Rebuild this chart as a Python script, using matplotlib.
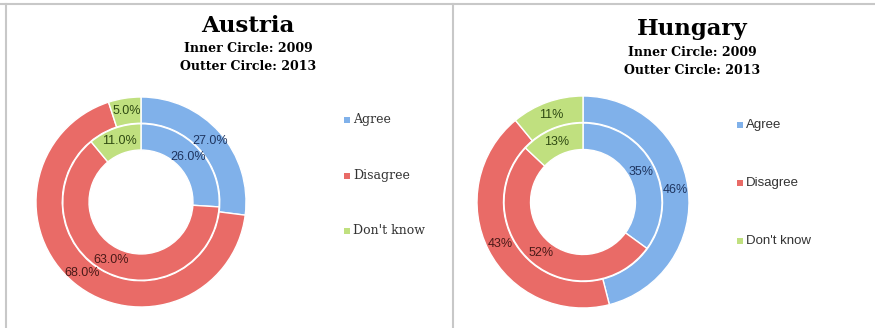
import numpy as np
import matplotlib.pyplot as plt
from matplotlib.patches import Rectangle
from matplotlib.lines import Line2D


W, H = 875, 328

categories = ["Agree", "Disagree", "Don't know"]

austria_2009 = [26.0, 63.0, 11.0]
austria_2013 = [27.0, 68.0, 5.0]

hungary_2009 = [35, 52, 13]
hungary_2013 = [46, 43, 11]

colors = ["#80b1ea", "#e96b67", "#c0e07f"]
label_colors = ["#1f3560", "#4a1a18", "#2f4a12"]


# =========================================================
# Helpers
# =========================================================

def fx(x):
    return x / W


def fy(y):
    return 1 - y / H


def donut(fig, cx, cy, r, inner, outer, fmt):

    half = r * 1.05

    ax = fig.add_axes([
        fx(cx - half),
        fy(cy + half),
        2 * half / W,
        2 * half / H
    ])

    ring = 0.25

    for values, radius in [(outer, 1.0), (inner, 0.745)]:

        wedges, _ = ax.pie(
            values,
            radius=radius,
            colors=colors,
            startangle=90,
            counterclock=False,
            wedgeprops=dict(width=ring, edgecolor="white", linewidth=1)
        )

        mid_r = radius - ring / 2

        for w, v, c in zip(wedges, values, label_colors):

            ang = np.deg2rad((w.theta1 + w.theta2) / 2)

            ax.text(
                mid_r * np.cos(ang),
                mid_r * np.sin(ang),
                fmt.format(v),
                ha="center",
                va="center",
                fontsize=9,
                color=c,
                family="Liberation Sans"
            )

    # pie() resets the limits, so set them afterwards
    ax.set_xlim(-1.05, 1.05)
    ax.set_ylim(-1.05, 1.05)
    ax.set_aspect("equal")
    ax.axis("off")

    return ax


def titles(fig, cx, ty, name, family, size):

    fig.text(
        fx(cx), fy(ty), name,
        ha="center", va="center",
        fontsize=size, fontweight="bold",
        family=family
    )

    fig.text(
        fx(cx), fy(ty + 23), "Inner Circle: 2009",
        ha="center", va="center",
        fontsize=9, fontweight="bold",
        family=family
    )

    fig.text(
        fx(cx), fy(ty + 41), "Outter Circle: 2013",
        ha="center", va="center",
        fontsize=9, fontweight="bold",
        family=family
    )


def legend(fig, x, ys, family, size):

    for lab, col, y in zip(categories, colors, ys):

        fig.patches.append(Rectangle(
            (fx(x - 3), fy(y + 3)),
            6 / W, 6 / H,
            transform=fig.transFigure,
            facecolor=col,
            edgecolor="none"
        ))

        fig.text(
            fx(x + 6), fy(y), lab,
            ha="left", va="center",
            fontsize=size, color="#333333",
            family=family
        )


# =========================================================
# Figure
# =========================================================

fig = plt.figure(figsize=(W / 100, H / 100), dpi=100)

# panel borders
for xs, ys in [((0, W), (4, 4)), ((6, 6), (4, H)), ((453, 453), (4, H))]:
    fig.add_artist(Line2D(
        [fx(v) for v in xs],
        [fy(v) for v in ys],
        color="#c8c8c8",
        linewidth=1.5,
        transform=fig.transFigure
    ))

donut(fig, 141, 202, 105, austria_2009, austria_2013, "{:.1f}%")
donut(fig, 583, 202, 106, hungary_2009, hungary_2013, "{:.0f}%")

titles(fig, 248, 26, "Austria", "DejaVu Serif", 16.5)
titles(fig, 692, 29, "Hungary", "DejaVu Serif", 16.5)

legend(fig, 347, [120, 176, 231], "DejaVu Serif", 9)
legend(fig, 740, [125, 183, 241], "Liberation Sans", 9.5)

fig.savefig("out.png", dpi=100)
